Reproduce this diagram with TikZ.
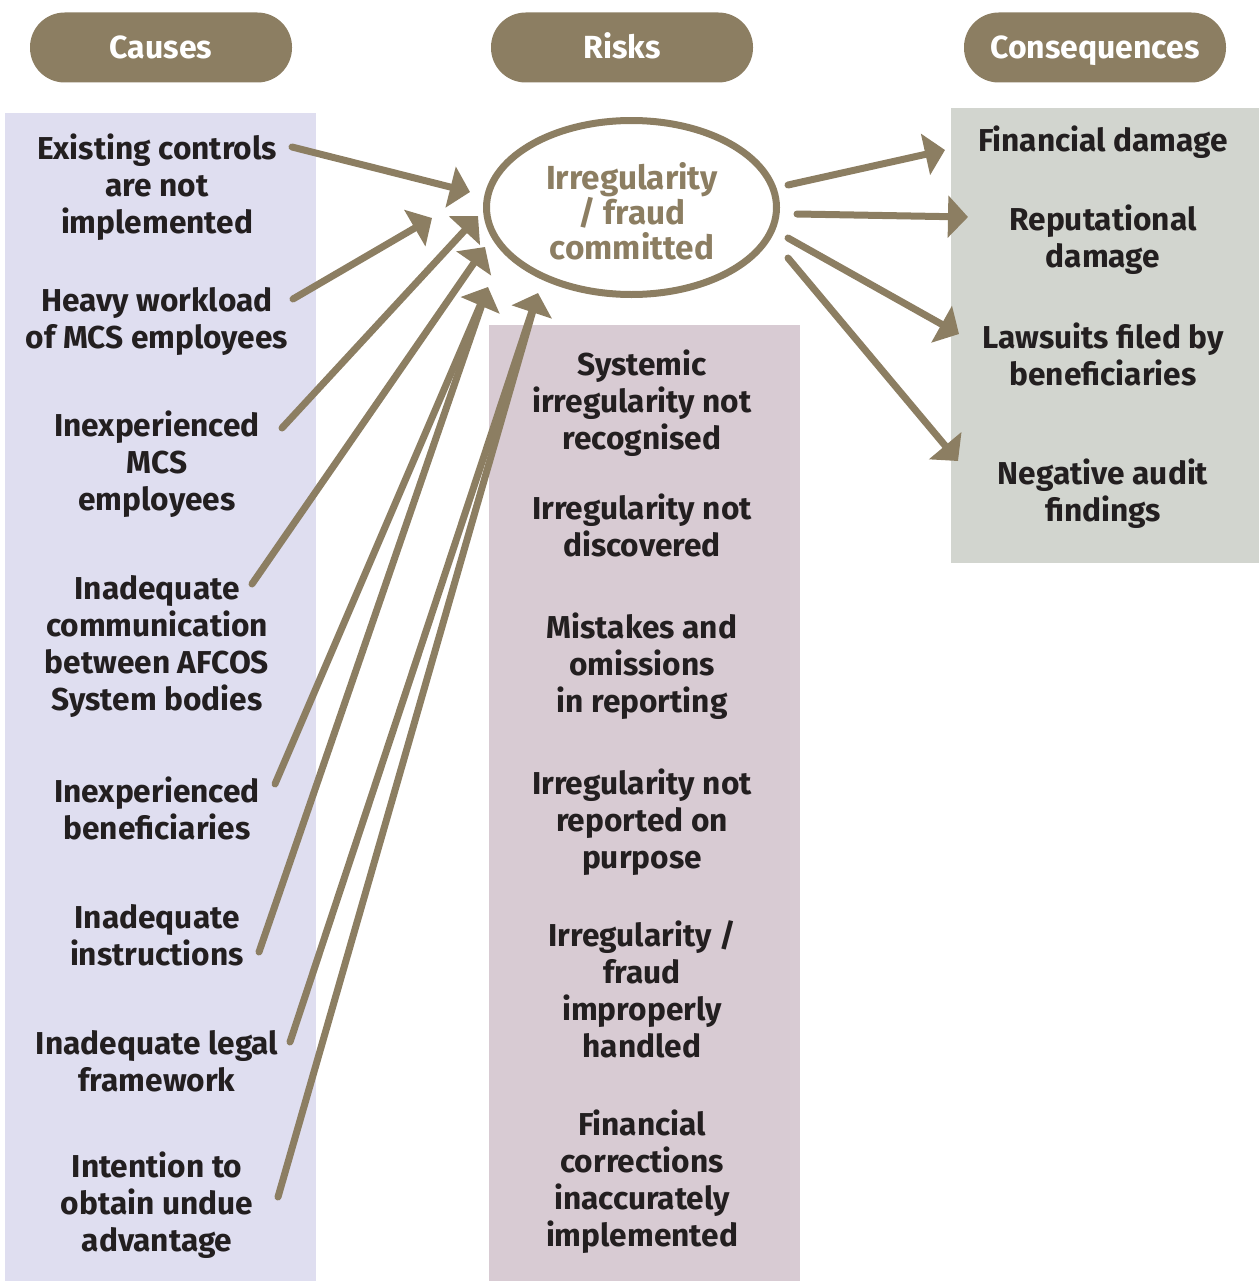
\documentclass[tikz,border=0pt]{standalone}
\usepackage{fontspec}
\setmainfont{Fira Sans}
\usetikzlibrary{arrows.meta,shapes.geometric}

\definecolor{bark}{RGB}{140,126,98}
\definecolor{ink}{RGB}{35,31,32}
\definecolor{causebg}{RGB}{223,222,240}
\definecolor{riskbg}{RGB}{216,203,211}
\definecolor{consbg}{RGB}{210,213,207}

\begin{document}
\begin{tikzpicture}[x=0.75pt,y=-0.75pt,
  pill/.style={fill=bark, text=white, rounded corners=26pt,
    minimum width=196.5pt, minimum height=52.5pt, inner sep=0pt,
    text height=16.5pt, text depth=0pt,
    font=\fontsize{24}{29}\selectfont\bfseries},
  item/.style={align=center, text=ink, inner sep=0pt,
    font=\fontsize{23.75}{27.75}\selectfont\bfseries,
    execute at begin node=\strut, execute at end node=\strut},
  hub/.style={draw=bark, line width=5.25pt, ellipse, minimum width=217.5pt,
    minimum height=130.5pt, inner sep=0pt},
  conn/.style={draw=bark, line width=5.25pt, line cap=round,
    -{Triangle[length=15pt,width=31pt]}},
  feed/.style={draw=bark, line width=5.25pt, line cap=round, shorten >=9pt},
]
\useasboundingbox (0,0) rectangle (1259,1281);

% column backgrounds
\fill[causebg] (5,113) rectangle (316,1281);
\fill[riskbg] (489,325) rectangle (800,1281);
\fill[consbg] (951,108) rectangle (1259,563);

% column headers
\node[pill] (hcauses) at (161,47.5) {Causes};
\node[pill] (hrisks) at (622,47.5) {Risks};
\node[pill] (hcons) at (1095,47.5) {Consequences};

% central event
\node[hub] (event) at (631.5,207.5) {};
\node[item, text=bark, font=\fontsize{25}{26.25}\selectfont\bfseries]
  (eventtext) at (632,216) {Irregularity\\/ fraud\\committed};

% causes
\node[item] (c1) at (157,189) {Existing controls\\are not\\implemented};
\node[item] (c2) at (157,323.5) {Heavy workload\\of MCS employees};
\node[item] (c3) at (157,466) {Inexperienced\\MCS\\employees};
\node[item] (c4) at (157,648.5) {Inadequate\\communication\\between AFCOS\\System bodies};
\node[item] (c5) at (157,814) {Inexperienced\\beneficiaries};
\node[item] (c6) at (157,941) {Inadequate\\instructions};
\node[item] (c7) at (157,1066.5) {Inadequate legal\\framework};
\node[item] (c8) at (157,1207.5) {Intention to\\obtain undue\\advantage};

% risks
\node[item] (r1) at (642,405) {Systemic\\irregularity not\\recognised};
\node[item] (r2) at (642,531) {Irregularity not\\discovered};
\node[item] (r3) at (642,668) {Mistakes and\\omissions\\in reporting};
\node[item] (r4) at (642,824.5) {Irregularity not\\reported on\\purpose};
\node[item] (r5) at (642,995) {Irregularity /\\fraud\\improperly\\handled};
\node[item] (r6) at (642,1184) {Financial\\corrections\\inaccurately\\implemented};

% consequences
\node[item] (q1) at (1103,144) {Financial damage};
\node[item] (q2) at (1103,241.5) {Reputational\\damage};
\node[item] (q3) at (1103,359.5) {Lawsuits filed by\\beneficiaries};
\node[item] (q4) at (1103,496) {Negative audit\\findings};

% connector ends on the cause side
\coordinate (t1) at (292,147);
\coordinate (t2) at (293,299);
\coordinate (t3) at (282,428);
\coordinate (t4) at (252,584);
\coordinate (t5) at (275,784);
\coordinate (t6) at (259,952);
\coordinate (t7) at (290,1042);
\coordinate (t8) at (278,1197);
% arrow points round the event
\coordinate (p1) at (470,192);
\coordinate (p2) at (432,218);
\coordinate (p3) at (478,216);
\coordinate (p4) at (485,247);
\coordinate (p5) at (488,287);
\coordinate (p6) at (538,293);
% connector ends on the consequence side
\coordinate (s1) at (788,185);
\coordinate (s2) at (797,214);
\coordinate (s3) at (788,238);
\coordinate (s4) at (788,258);
\coordinate (e1) at (945,150);
\coordinate (e2) at (968,217);
\coordinate (e3) at (959,334);
\coordinate (e4) at (958,461);

% causes lead to the event
\draw[conn] (t1) -- (p1);
\draw[conn] (t2) -- (p2);
\draw[conn] (t3) -- (p3);
\draw[conn] (t4) -- (p4);
\draw[feed] (t6) -- (p5);
\draw[conn] (t5) -- (p5);
\draw[feed] (t8) -- (p6);
\draw[conn] (t7) -- (p6);

% the event leads to consequences
\draw[conn] (s1) -- (e1);
\draw[conn] (s2) -- (e2);
\draw[conn] (s3) -- (e3);
\draw[conn] (s4) -- (e4);
\end{tikzpicture}
\end{document}
